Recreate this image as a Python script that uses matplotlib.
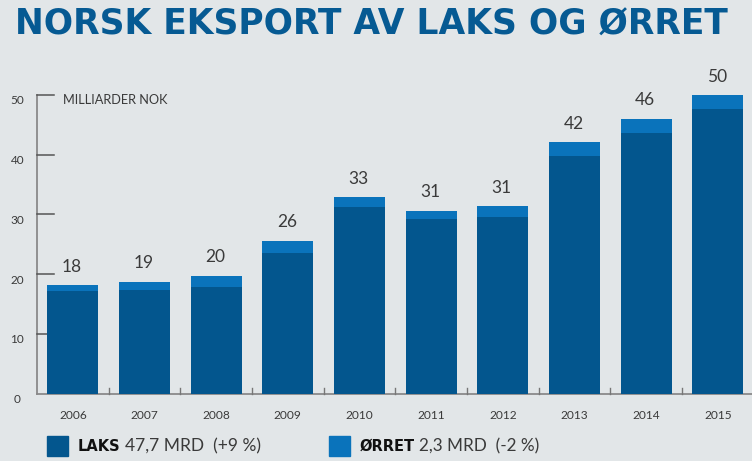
import matplotlib
matplotlib.use("Agg")
import matplotlib.pyplot as plt
import matplotlib.transforms as mtransforms
from matplotlib.patches import Rectangle

years = ["2006", "2007", "2008", "2009", "2010", "2011", "2012", "2013", "2014", "2015"]
laks = [17.2, 17.4, 17.9, 23.6, 31.3, 29.3, 29.6, 39.7, 43.7, 47.7]
orret = [0.9, 1.3, 1.8, 2.0, 1.6, 1.3, 1.8, 2.4, 2.3, 2.3]
totals = ["18", "19", "20", "26", "33", "31", "31", "42", "46", "50"]
yticks = [0, 10, 20, 30, 40, 50]

title = "NORSK EKSPORT AV LAKS OG ØRRET"
unit_label = "MILLIARDER NOK"
legend_items = [("LAKS", " 47,7 MRD  (+9 %)"), ("ØRRET", " 2,3 MRD  (-2 %)")]

BG = "#e2e6e8"
DARK = "#03568e"
LIGHT = "#0a73bb"
TITLE_C = "#065a93"
TXT = "#3a3a3a"
AX_C = "#8a8a8a"
FONT = "Lato"

W, H = 752, 461
fig = plt.figure(figsize=(W / 100, H / 100), dpi=100, facecolor=BG)

def fx(px):
    return px / W

def fy(py):
    return 1 - py / H

def fit_width(txt, target_px):
    fig.canvas.draw()
    w = txt.get_window_extent().width
    txt.set_fontsize(txt.get_fontsize() * target_px / w)

ax_left, ax_right, ax_bottom, ax_top = 37, 753.7, 393.5, 95
ax = fig.add_axes([fx(ax_left), fy(ax_bottom), fx(ax_right - ax_left), (ax_bottom - ax_top) / H])
ax.set_facecolor(BG)
ax.set_xlim(-0.5, 9.5)
ax.set_ylim(0, 50)
for s in ax.spines.values():
    s.set_visible(False)
ax.set_xticks([])
ax.set_yticks([])

x = list(range(len(years)))
bw = 0.71
ax.bar(x, laks, width=bw, color=DARK, zorder=3)
ax.bar(x, orret, width=bw, bottom=laks, color=LIGHT, zorder=3)

ax.plot([-0.5, -0.5], [0, 50], color=AX_C, lw=1.3, clip_on=False, zorder=2)
ax.plot([-0.5, 9.5], [0, 0], color=AX_C, lw=1.3, clip_on=False, zorder=2)
tick_len = 17 / 71.67
for t in yticks[1:]:
    ax.plot([-0.5, -0.5 + tick_len], [t, t], color="#555555", lw=1.1, clip_on=False, zorder=2)
for i in range(len(years)):
    ax.plot([i + 0.5, i + 0.5], [0, 1.0], color="#777777", lw=1.0, clip_on=False, zorder=2)

off_down = mtransforms.ScaledTranslation(0, -6 / 100, fig.dpi_scale_trans)
ytrans = ax.get_yaxis_transform() + off_down
for t in yticks:
    ax.text(-0.0273, t, str(t), transform=ytrans, ha="center", va="center",
            fontsize=8.5, color=TXT, family=FONT)

for i, yr in enumerate(years):
    ax.annotate(yr, (i, 0), xytext=(0, -21.5), textcoords="offset pixels",
                ha="center", va="center", fontsize=8.6, color=TXT,
                family=FONT, annotation_clip=False)

for i in x:
    top = laks[i] + orret[i]
    ax.annotate(totals[i], (i, top), xytext=(-1, 10.5), textcoords="offset pixels",
                ha="center", va="bottom", fontsize=12.5, color=TXT,
                family=FONT, annotation_clip=False)

ul = fig.text(fx(63), fy(100), unit_label, ha="left", va="center", fontsize=8.6,
              color=TXT, family=FONT)
fit_width(ul, 105)

tt = fig.text(fx(15), fy(25), title, ha="left", va="center", fontsize=27.5,
              fontweight="bold", color=TITLE_C, family="DejaVu Sans")
fit_width(tt, 715)

legend_x = [47, 329]
rest_w = [135, 120]
for (bold, rest), lx, col, rw in zip(legend_items, legend_x, [DARK, LIGHT], rest_w):
    fig.patches.append(Rectangle((fx(lx), fy(456)), fx(21), 20 / H,
                                 transform=fig.transFigure, color=col))
    t1 = fig.text(fx(lx + 31), fy(446), bold, ha="left", va="center",
                  fontsize=10.5, fontweight="bold", color="#111111", family="DejaVu Sans")
    fig.canvas.draw()
    bb = t1.get_window_extent()
    t2 = fig.text(bb.x1 / W + fx(4), fy(446), rest.strip(), ha="left", va="center",
                  fontsize=11, color=TXT, family=FONT)
    fit_width(t2, rw)

fig.savefig("out.png", dpi=100, facecolor=BG)
